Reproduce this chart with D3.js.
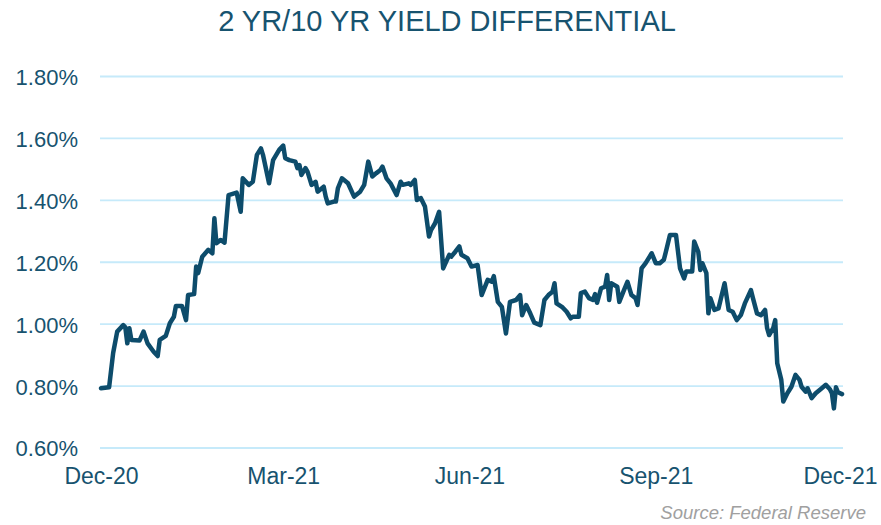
<!DOCTYPE html>
<html>
<head>
<meta charset="utf-8">
<script src="https://cdn.jsdelivr.net/npm/d3@7"></script>
<style>
  html, body { margin: 0; padding: 0; background: #fff; }
  svg { display: block; }
</style>
</head>
<body>
<svg id="chart" width="881" height="525"></svg>
<script>
// ---- data ----
const startDate = "2020-12-01";
// day offsets from start date
const dayOffsets = [0,4,6,8,11,12,13,14,15,19,21,23,26,28,29,32,34,36,37,40,42,43,46,47,48,50,53,55,56,57,59,61,63,67,69,70,73,75,77,79,80,83,85,88,90,91,93,96,97,98,99,101,102,104,106,107,110,111,112,115,116,117,119,122,125,128,130,132,134,136,138,139,141,143,146,148,149,152,153,155,156,158,160,162,163,165,167,169,172,173,175,177,178,181,183,186,188,191,193,194,196,198,200,202,205,207,208,210,212,214,217,219,221,223,224,225,228,230,232,233,236,237,239,241,243,244,245,247,249,250,251,252,255,256,258,260,262,264,265,267,269,272,274,276,278,279,281,284,286,288,289,292,293,295,296,297,299,300,301,303,305,308,310,312,314,316,318,321,322,324,326,328,329,330,332,333,334,336,337,339,341,343,345,346,348,349,351,353,356,358,360,361,362,363,364,366];
// 2yr/10yr spread, percent
const spread = [0.793,0.796,0.907,0.976,0.997,0.990,0.938,0.987,0.949,0.947,0.976,0.938,0.911,0.897,0.949,0.962,1.003,1.024,1.059,1.059,1.013,1.094,1.097,1.186,1.165,1.218,1.240,1.229,1.342,1.261,1.272,1.263,1.417,1.425,1.363,1.471,1.450,1.460,1.547,1.568,1.547,1.455,1.530,1.563,1.577,1.536,1.530,1.525,1.504,1.514,1.482,1.504,1.493,1.450,1.460,1.428,1.444,1.412,1.390,1.396,1.396,1.439,1.471,1.455,1.412,1.428,1.450,1.525,1.477,1.488,1.498,1.509,1.471,1.455,1.417,1.460,1.450,1.455,1.450,1.466,1.401,1.407,1.380,1.283,1.304,1.326,1.363,1.180,1.224,1.218,1.234,1.251,1.224,1.213,1.186,1.191,1.094,1.143,1.137,1.155,1.072,1.056,0.970,1.072,1.078,1.094,1.029,1.062,1.035,1.005,0.997,1.078,1.094,1.105,1.132,1.067,1.054,1.040,1.019,1.024,1.024,1.100,1.105,1.084,1.078,1.097,1.069,1.116,1.121,1.159,1.078,1.132,1.121,1.072,1.105,1.137,1.094,1.084,1.062,1.180,1.197,1.229,1.197,1.197,1.208,1.234,1.288,1.288,1.180,1.148,1.170,1.170,1.267,1.234,1.175,1.197,1.165,1.035,1.084,1.046,1.051,1.132,1.046,1.040,1.013,1.029,1.067,1.110,1.084,1.035,1.029,1.046,0.987,0.965,0.987,1.013,0.874,0.820,0.750,0.777,0.798,0.836,0.820,0.798,0.782,0.793,0.761,0.777,0.793,0.804,0.790,0.777,0.728,0.796,0.780,0.774];
const yTicks = [0.6, 0.8, 1.0, 1.2, 1.4, 1.6, 1.8];
const xTickDates = ["2020-12-01","2021-03-01","2021-06-01","2021-09-01","2021-12-01"];
const xTickLabels = ["Dec-20","Mar-21","Jun-21","Sep-21","Dec-21"];
const title = "2 YR/10 YR YIELD DIFFERENTIAL";
const source = "Source: Federal Reserve";

// ---- chart ----
const parse = d3.utcParse("%Y-%m-%d");
const t0 = parse(startDate);
const points = dayOffsets.map((d, i) => ({ date: d3.utcDay.offset(t0, d), v: spread[i] }));

const svg = d3.select("#chart");
const textColor = "#17536f";
const lineColor = "#0d4c6b";
const gridColor = "#c6eafa";
const font = "Liberation Sans, Arial, sans-serif";

const x = d3.scaleUtc()
  .domain([parse(xTickDates[0]), parse(xTickDates[xTickDates.length - 1])])
  .range([101, 840]);
const y = d3.scaleLinear().domain([0.6, 1.8]).range([448, 76.5]);

// gridlines
svg.append("g").selectAll("line").data(yTicks).join("line")
  .attr("x1", 100).attr("x2", 843)
  .attr("y1", d => y(d)).attr("y2", d => y(d))
  .attr("stroke", gridColor).attr("stroke-width", 1.8);

// y axis labels
const yAxis = d3.axisLeft(y).tickValues(yTicks).tickSize(0).tickPadding(0)
  .tickFormat(d => d3.format(".2f")(d) + "%");
const gy = svg.append("g").attr("transform", "translate(78,0)").call(yAxis);
gy.select(".domain").remove();
gy.selectAll("text")
  .attr("font-family", font)
  .attr("font-size", 22).attr("fill", textColor).attr("dy", "0.36em");

// x axis labels
const xAxis = d3.axisBottom(x).tickValues(xTickDates.map(parse)).tickSize(0).tickPadding(0)
  .tickFormat((d, i) => xTickLabels[i]);
const gx = svg.append("g").attr("transform", "translate(0,476)").call(xAxis);
gx.select(".domain").remove();
gx.selectAll("text")
  .attr("font-family", font)
  .attr("font-size", 23).attr("fill", textColor).attr("dy", "0.36em").attr("y", 0);

// line
const line = d3.line().x(d => x(d.date)).y(d => y(d.v)).curve(d3.curveLinear);
svg.append("path").datum(points)
  .attr("d", line)
  .attr("fill", "none")
  .attr("stroke", lineColor)
  .attr("stroke-width", 4.5)
  .attr("stroke-linejoin", "round")
  .attr("stroke-linecap", "round");

// title
svg.append("text")
  .attr("x", 447).attr("y", 31)
  .attr("text-anchor", "middle")
  .attr("font-family", font)
  .attr("font-size", 29)
  .attr("fill", textColor)
  .text(title);

// source
svg.append("text")
  .attr("x", 866).attr("y", 519)
  .attr("text-anchor", "end")
  .attr("font-family", font)
  .attr("font-style", "italic")
  .attr("font-size", 18.5)
  .attr("fill", "#a0a0a0")
  .text(source);
</script>
</body>
</html>
